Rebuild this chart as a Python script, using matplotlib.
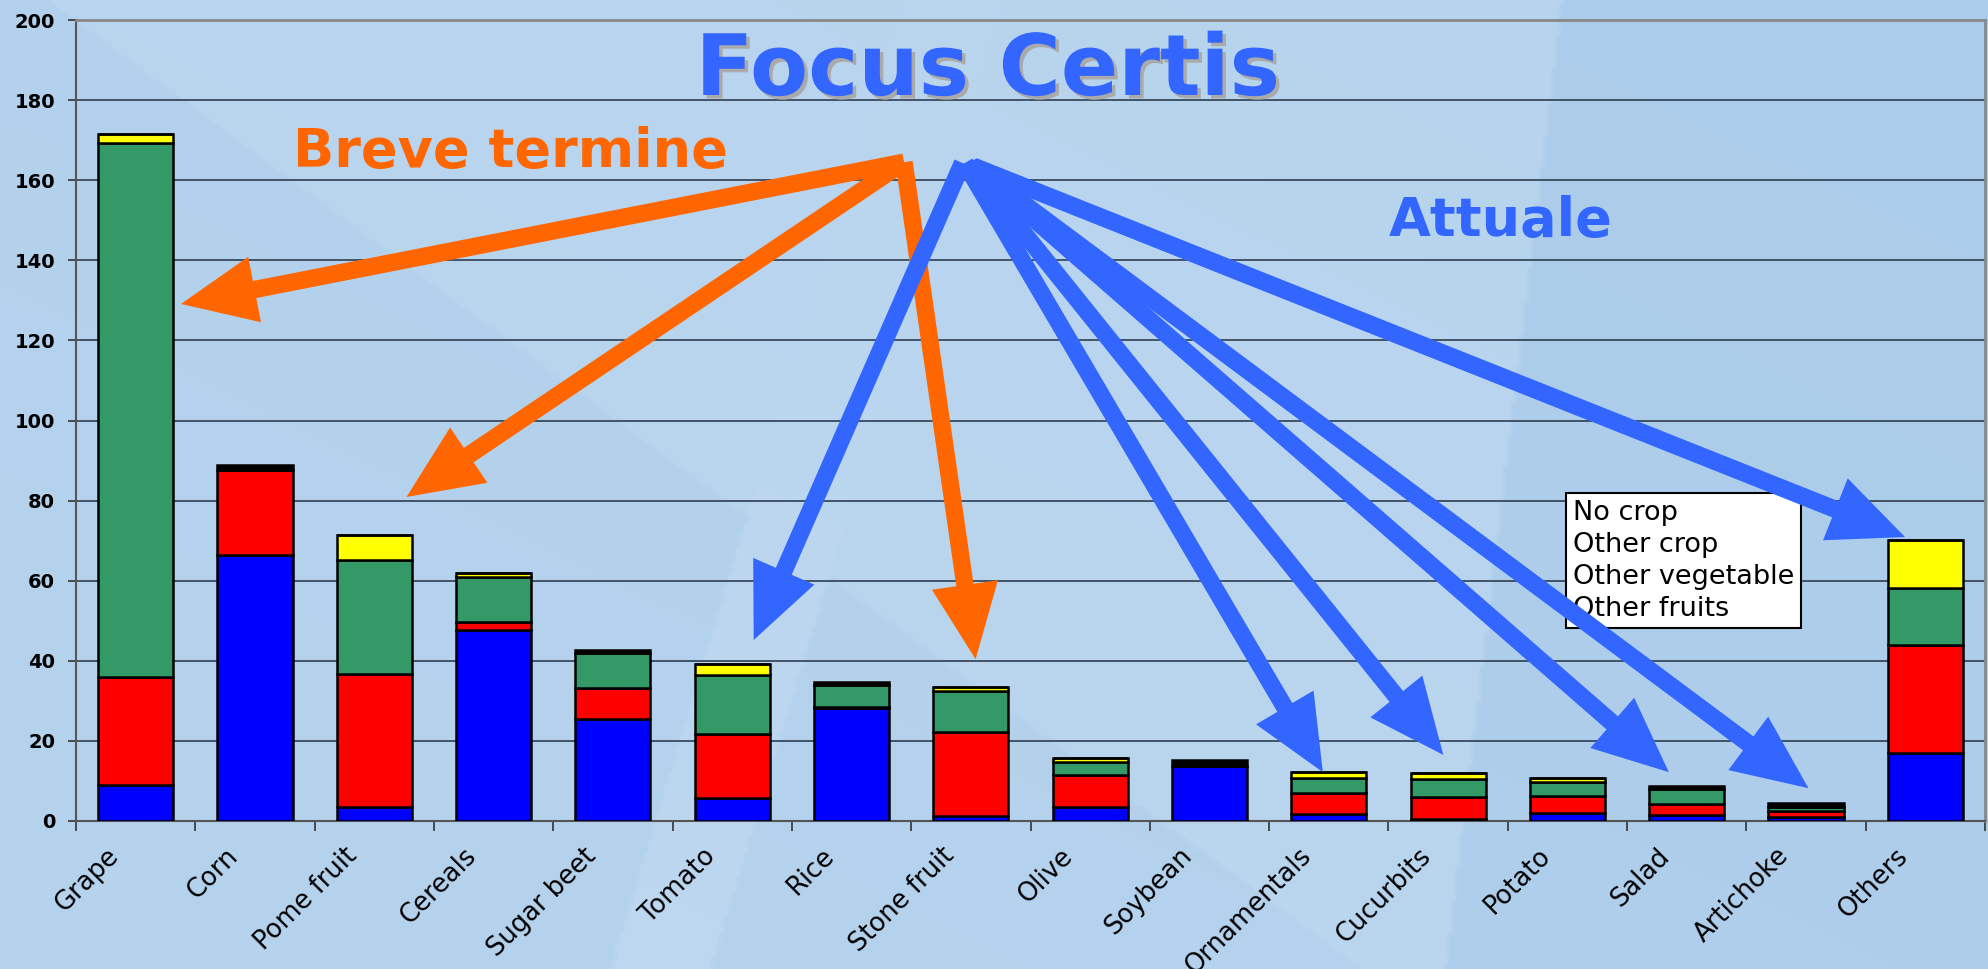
import matplotlib
matplotlib.use('Agg')
import matplotlib.pyplot as plt
import matplotlib.patheffects as pe
import matplotlib.transforms as mtransforms
from matplotlib.patches import Rectangle
import numpy as np

# crops and stacked shares
crops = ['Grape', 'Corn', 'Pome fruit', 'Cereals', 'Sugar beet', 'Tomato', 'Rice',
         'Stone fruit', 'Olive', 'Soybean', 'Ornamentals', 'Cucurbits', 'Potato',
         'Salad', 'Artichoke', 'Others']
same_crop = [9.0, 66.5, 3.4, 47.8, 25.4, 5.7, 28.2, 1.3, 3.6, 13.8, 1.7, 0.4, 2.1, 1.6, 0.9, 16.9]
other_fruits = [27.0, 21.1, 33.2, 1.9, 7.7, 15.9, 0.3, 21.0, 7.9, 0.0, 5.2, 5.7, 4.1, 2.6, 1.5, 27.1]
other_vegetable = [133.3, 0.0, 28.5, 11.1, 8.9, 14.9, 5.4, 10.2, 3.3, 0.0, 3.8, 4.4, 3.6, 3.7, 1.1, 14.2]
other_crop = [2.3, 0.0, 6.3, 1.0, 0.0, 2.6, 0.0, 1.0, 1.0, 0.0, 1.5, 1.6, 1.0, 0.0, 0.0, 12.0]
no_crop = [0.0, 1.3, 0.0, 0.0, 0.6, 0.0, 0.8, 0.0, 0.0, 1.4, 0.0, 0.0, 0.0, 0.9, 1.1, 0.0]

legend_labels = ['No crop', 'Other crop', 'Other vegetable', 'Other fruits']
yticks = [0, 20, 40, 60, 80, 100, 120, 140, 160, 180, 200]

# arrows: (start x, start y) -> (tip x, tip y) in category / value units
orange_arrows = [((6.44, 164.5), (0.38, 129.1)),
                 ((6.44, 164.5), (2.27, 80.9)),
                 ((6.44, 164.5), (7.04, 40.4))]
blue_arrows = [((6.93, 164.3), (5.18, 45.2)),
               ((6.95, 164.3), (9.95, 12.2)),
               ((6.98, 164.0), (10.96, 16.5)),
               ((7.02, 163.5), (12.85, 12.2)),
               ((7.02, 163.5), (14.02, 8.2)),
               ((7.02, 163.5), (14.83, 70.9))]

W, H = 1988, 969
fig = plt.figure(figsize=(W / 100, H / 100), dpi=100)

# slide-like background
bg = fig.add_axes([0, 0, 1, 1], zorder=-10)
yy, xx = np.mgrid[0:H:4, 0:W:4]
light = np.array([0.765, 0.86, 0.945])
dark = np.array([0.655, 0.79, 0.915])
t = np.full(xx.shape, 0.35)
t = np.where(yy > 0.74 * (xx - 76) + 20, 0.55, t)
t = np.where(xx > 1560 - 0.12 * yy, 0.75, t)
t = np.where((xx > 900 - 0.3 * yy) & (xx < 1000 - 0.3 * yy), 0.3, t)
t = t + 0.1 * (xx / W) - 0.1 * (yy / H)
img = light[None, None, :] * (1 - t[..., None]) + dark[None, None, :] * t[..., None]
bg.imshow(np.clip(img, 0, 1), aspect='auto', interpolation='bilinear')
bg.axis('off')

ax = fig.add_axes([76 / W, 1 - 821 / H, 1909 / W, 801 / H])
ax.set_facecolor('none')

x = np.arange(len(crops))
series = [(same_crop, '#0000FF'), (other_fruits, '#FF0000'),
          (other_vegetable, '#339966'), (other_crop, '#FFFF00'), (no_crop, '#000000')]
bottom = np.zeros(len(crops))
for vals, col in series:
    ax.bar(x, vals, width=0.63, bottom=bottom, color=col, edgecolor='black',
           linewidth=1.8, zorder=3)
    bottom += np.array(vals)

ax.set_xlim(-0.5, len(crops) - 0.5)
ax.set_ylim(0, 200)
ax.set_yticks(yticks)
ax.set_yticklabels([str(v) for v in yticks], fontsize=14, fontweight='bold')
ax.yaxis.grid(True, color='#2e3e50', linewidth=1.2, zorder=1)
ax.set_axisbelow(True)
ax.tick_params(axis='y', direction='out', length=6, width=1.2, color='#333333', pad=9)

ax.set_xticks(np.arange(len(crops) + 1) - 0.5)
ax.set_xticklabels([])
ax.set_xticks(x, minor=True)
ax.set_xticklabels(crops, minor=True, rotation=45, ha='right', va='top',
                   rotation_mode='anchor', fontsize=18.5)
ax.tick_params(axis='x', which='major', direction='out', length=7, width=1.2, color='#333333')
ax.tick_params(axis='x', which='minor', length=0, pad=18)
shift = mtransforms.ScaledTranslation(-0.3, 0.03, fig.dpi_scale_trans)
for lab in ax.get_xticklabels(minor=True):
    lab.set_transform(lab.get_transform() + shift)

for s in ['left', 'bottom']:
    ax.spines[s].set_color('#555555')
    ax.spines[s].set_linewidth(1.5)
for s in ['top', 'right']:
    ax.spines[s].set_color('#888888')
    ax.spines[s].set_linewidth(2)

handles = [Rectangle((0, 0), 0, 0, visible=False) for _ in legend_labels]
leg = ax.legend(handles, legend_labels, loc='upper left', bbox_to_anchor=(0.7805, 0.4095),
                borderaxespad=0, handlelength=0, handletextpad=0, fontsize=19.5,
                fancybox=False, framealpha=1, edgecolor='black', labelspacing=0.22,
                borderpad=0.25)
leg.get_frame().set_linewidth(1.5)
leg.set_zorder(5)

style = 'simple,head_length=5.4,head_width=4.8,tail_width=1.25'
for (x0, y0), (x1, y1) in orange_arrows:
    ax.annotate('', xy=(x1, y1), xytext=(x0, y0), annotation_clip=False, zorder=6,
                arrowprops=dict(arrowstyle=style, mutation_scale=10, fc='#FF6600',
                                ec='none', shrinkA=0, shrinkB=0))
for (x0, y0), (x1, y1) in blue_arrows:
    ax.annotate('', xy=(x1, y1), xytext=(x0, y0), annotation_clip=False, zorder=6,
                arrowprops=dict(arrowstyle=style, mutation_scale=10, fc='#3366FF',
                                ec='none', shrinkA=0, shrinkB=0))

fig.text(0.497, 1 - 95 / H, 'Focus Certis', ha='center', va='baseline', fontsize=61,
         fontweight='bold', color='#3366FF',
         path_effects=[pe.withSimplePatchShadow(offset=(2.5, -2.5), shadow_rgbFace='#aaaaaa', alpha=1)])
fig.text(0.257, 1 - 167 / H, 'Breve termine', ha='center', va='baseline', fontsize=39,
         fontweight='bold', color='#FF6600')
fig.text(0.755, 1 - 236 / H, 'Attuale', ha='center', va='baseline', fontsize=39,
         fontweight='bold', color='#3366FF')

fig.savefig('out.png', dpi=100)
